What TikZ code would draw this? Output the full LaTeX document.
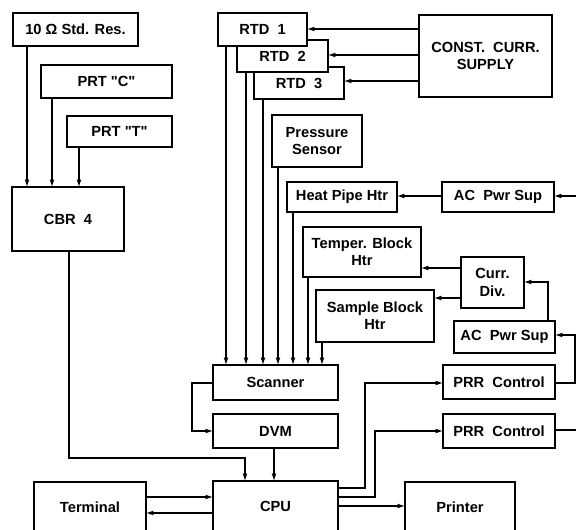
\documentclass[tikz,border=0pt]{standalone}
\usepackage{fontspec}
\setmainfont{Liberation Sans}
\usetikzlibrary{arrows.meta}
\tikzset{
  blk/.style={draw, line width=0.9pt, fill=white, inner sep=0pt, outer sep=0pt, align=center,
    font=\fontsize{11}{13}\selectfont\bfseries},
  conn/.style={line width=0.8pt},
  arr/.style={conn, -{Latex[length=5.5pt,width=3.6pt]}}
}
\newcommand\blk[6]{\node[blk,minimum width={(#4-#2)*0.75pt},minimum height={(#5-#3)*0.75pt}] (#1) at ({(#2+#4)/2},{(#3+#5)/2}) {#6};}
\begin{document}
\begin{tikzpicture}[x=0.75pt,y=-0.75pt]
\useasboundingbox (0,0) rectangle (576,530);
\clip (0,0) rectangle (576,530);
% left column
\blk{std}{13}{13}{138}{46}{10 Ω Std. Res.}
\blk{prtc}{41}{65}{172}{98}{PRT \textquotedbl C\textquotedbl}
\blk{prtt}{67}{116}{172}{147}{PRT \textquotedbl T\textquotedbl}
\blk{cbr}{12}{187}{124}{251}{CBR\ \ 4}
% RTDs (back to front)
\blk{rtd3}{254}{67}{344}{99}{RTD\ \ 3}
\blk{rtd2}{237}{40}{328}{72}{RTD\ \ 2}
\blk{rtd1}{218}{13}{307}{46}{RTD\ \ 1}
\blk{const}{419}{15}{552}{97}{CONST.\ \ CURR.\\SUPPLY}
\blk{press}{272}{115}{362}{167}{Pressure\\Sensor}
\blk{heat}{287}{182}{397}{212}{Heat Pipe Htr}
\blk{acps1}{442}{182}{554}{212}{AC\ \ Pwr Sup}
\blk{temp}{303}{227}{421}{277}{Temper. Block\\Htr}
\blk{currdiv}{461}{257}{524}{308}{Curr.\\Div.}
\blk{sample}{316}{290}{434}{342}{Sample Block\\Htr}
\blk{acps2}{454}{321}{555}{353}{AC\ \ Pwr Sup}
\blk{scanner}{213}{365}{338}{400}{Scanner}
\blk{dvm}{213}{414}{338}{448}{DVM}
\blk{cpu}{213}{481}{338}{532}{CPU}
\blk{prr1}{443}{365}{555}{399}{PRR\ \ Control}
\blk{prr2}{443}{414}{555}{448}{PRR\ \ Control}
\blk{terminal}{34}{482}{146}{532}{Terminal}
\blk{printer}{405}{482}{515}{532}{Printer}
% free ends at the right edge
\coordinate (in1) at (577,196);
\coordinate (out2) at (577,430);
% left column connectors
\draw[arr] (std.south -| 27,0) -- (cbr.north -| 27,0);
\draw[arr] (prtc.south -| 52,0) -- (cbr.north -| 52,0);
\draw[arr] (prtt.south -| 79,0) -- (cbr.north -| 79,0);
\draw[arr] (cbr.south -| 69,0) -- (69,458) -- (245,458) -- (cpu.north -| 245,0);
% sensors to scanner
\draw[arr] (rtd1.south -| 226,0) -- (scanner.north -| 226,0);
\draw[arr] (rtd2.south -| 246,0) -- (scanner.north -| 246,0);
\draw[arr] (rtd3.south -| 263,0) -- (scanner.north -| 263,0);
\draw[arr] (press.south -| 278,0) -- (scanner.north -| 278,0);
\draw[arr] (heat.south -| 293,0) -- (scanner.north -| 293,0);
\draw[arr] (temp.south -| 308,0) -- (scanner.north -| 308,0);
\draw[arr] (sample.south -| 322,0) -- (scanner.north -| 322,0);
% current supply to RTDs
\draw[arr] (const.west |- 0,29) -- (rtd1.east |- 0,29);
\draw[arr] (const.west |- 0,55) -- (rtd2.east |- 0,55);
\draw[arr] (const.west |- 0,81) -- (rtd3.east |- 0,81);
% heaters
\draw[arr] (in1) -- (acps1.east |- in1);
\draw[arr] (acps1.west |- 0,196) -- (heat.east |- 0,196);
\draw[arr] (currdiv.west |- 0,268) -- (temp.east |- 0,268);
\draw[arr] (currdiv.west |- 0,298) -- (sample.east |- 0,298);
\draw[arr] (acps2.north -| 548,0) -- (548,282) -- (currdiv.east |- 0,282);
\draw[arr] (prr1.east |- 0,383) -- (575,383) -- (575,335) -- (acps2.east |- 0,335);
\draw[conn] (prr2.east |- out2) -- (out2);
% scanner, DVM, CPU
\draw[arr] (scanner.west |- 0,383) -- (192,383) -- (192,431) -- (dvm.west |- 0,431);
\draw[arr] (dvm.south -| 274,0) -- (cpu.north -| 274,0);
\draw[arr] (cpu.east |- 0,488) -- (365,488) -- (365,383) -- (prr1.west |- 0,383);
\draw[arr] (cpu.east |- 0,497) -- (375,497) -- (375,431) -- (prr2.west |- 0,431);
\draw[arr] (cpu.east |- 0,506) -- (printer.west |- 0,506);
\draw[arr] (terminal.east |- 0,497) -- (cpu.west |- 0,497);
\draw[arr] (cpu.west |- 0,513) -- (terminal.east |- 0,513);
\end{tikzpicture}
\end{document}
